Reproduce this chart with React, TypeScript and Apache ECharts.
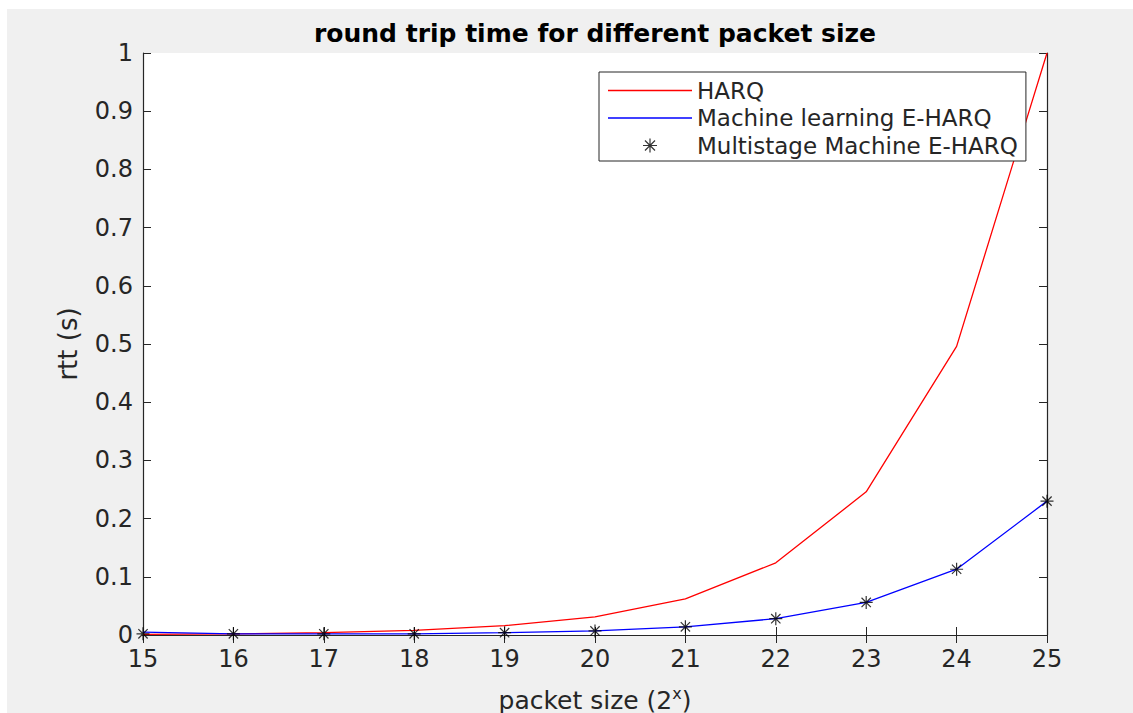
import React, { useEffect, useRef } from "react";
import * as echarts from "echarts";

const packetSizes = ["15", "16", "17", "18", "19", "20", "21", "22", "23", "24", "25"];
const harqRtt = [0.001, 0.002, 0.004, 0.008, 0.016, 0.031, 0.062, 0.124, 0.246, 0.496, 1.0];
const mlEharqRtt = [0.005, 0.002, 0.002, 0.002, 0.004, 0.007, 0.014, 0.028, 0.056, 0.113, 0.23];
const multistageRtt = [0.002, 0.002, 0.002, 0.002, 0.004, 0.007, 0.014, 0.028, 0.056, 0.113, 0.23];
const seriesNames = ["HARQ", "Machine learning E-HARQ", "Multistage Machine E-HARQ"];

const FONT = "DejaVu Sans";
const AXIS = "#262626";
const STAR = "path://M0 -6 L0 6 M-6 0 L6 0 M-4.3 -4.3 L4.3 4.3 M-4.3 4.3 L4.3 -4.3";
const LINE_ICON = "path://M0 0 H84 V1.3 H0 Z";

export default function App() {
  const ref = useRef<HTMLDivElement>(null);
  useEffect(() => {
    const chart = echarts.init(ref.current as HTMLDivElement, null, { renderer: "svg" });
    const xData = packetSizes.map(Number);
    const pairs = (ys: number[]) => ys.map((v, i) => [xData[i], v]);
    const tickStyle = { inside: true, length: 8, lineStyle: { color: AXIS, width: 1 } };
    const lineStyle = { color: AXIS, width: 1.2 };
    chart.setOption({
      animation: false,
      backgroundColor: "#f0f0f0",
      title: {
        text: "round trip time for different packet size",
        left: 588,
        top: 12,
        textAlign: "center",
        padding: 0,
        textStyle: { fontFamily: FONT, fontSize: 25, fontWeight: "bold", color: "#000" },
      },
      grid: {
        left: 136,
        right: 86,
        top: 44,
        bottom: 78,
        show: true,
        backgroundColor: "#ffffff",
        borderWidth: 0,
        containLabel: false,
        outerBoundsMode: "none",
      },
      legend: {
        orient: "vertical",
        left: 592,
        top: 63,
        padding: [7, 8, 4, 9],
        itemWidth: 84,
        itemHeight: 14,
        itemGap: 4.5,
        backgroundColor: "#ffffff",
        borderColor: AXIS,
        borderWidth: 1,
        borderRadius: 0,
        textStyle: { fontFamily: FONT, fontSize: 23, color: AXIS },
        data: [
          { name: seriesNames[0], icon: LINE_ICON, itemStyle: { color: "#ff0000", borderWidth: 0 } },
          { name: seriesNames[1], icon: LINE_ICON, itemStyle: { color: "#0000ff", borderWidth: 0 } },
          { name: seriesNames[2], icon: STAR, itemStyle: { color: "#000", borderColor: "#000", borderWidth: 1.2 } },
        ],
      },
      xAxis: [
        {
          type: "value",
          min: 15,
          max: 25,
          interval: 1,
          axisLine: { show: true, lineStyle },
          axisTick: tickStyle,
          splitLine: { show: false },
          axisLabel: { fontFamily: FONT, fontSize: 24, color: AXIS, margin: 12 },
          name: "{a|packet size (2}{s|x}{a|)}",
          nameLocation: "middle",
          nameGap: 50,
          nameTextStyle: {
            fontFamily: FONT,
            color: AXIS,
            rich: {
              a: { fontFamily: FONT, fontSize: 25, color: AXIS, lineHeight: 30 },
              s: { fontFamily: FONT, fontSize: 16, color: AXIS, verticalAlign: "top", lineHeight: 30, padding: [0, 0, 10, 0] },
            },
          },
        },
        {
          type: "value",
          position: "top",
          min: 15,
          max: 25,
          interval: 1,
          axisLine: { show: true, lineStyle },
          axisTick: tickStyle,
          axisLabel: { show: false },
          splitLine: { show: false },
        },
      ],
      yAxis: [
        {
          type: "value",
          min: 0,
          max: 1,
          interval: 0.1,
          axisLine: { show: true, lineStyle },
          axisTick: tickStyle,
          splitLine: { show: false },
          axisLabel: { fontFamily: FONT, fontSize: 24, color: AXIS, margin: 10 },
          name: "rtt (s)",
          nameLocation: "middle",
          nameGap: 62,
          nameTextStyle: { fontFamily: FONT, fontSize: 26, color: AXIS },
        },
        {
          type: "value",
          position: "right",
          min: 0,
          max: 1,
          interval: 0.1,
          axisLine: { show: true, lineStyle },
          axisTick: tickStyle,
          axisLabel: { show: false },
          splitLine: { show: false },
        },
      ],
      series: [
        {
          name: seriesNames[0],
          type: "line",
          data: pairs(harqRtt),
          symbol: "none",
          showSymbol: false,
          lineStyle: { color: "#ff0000", width: 1.3 },
          itemStyle: { color: "#ff0000" },
          z: 2,
        },
        {
          name: seriesNames[1],
          type: "line",
          data: pairs(mlEharqRtt),
          symbol: "none",
          showSymbol: false,
          lineStyle: { color: "#0000ff", width: 1.3 },
          itemStyle: { color: "#0000ff" },
          z: 3,
        },
        {
          name: seriesNames[2],
          type: "scatter",
          data: pairs(multistageRtt),
          symbol: STAR,
          symbolSize: 13,
          itemStyle: { color: "#000", borderColor: "#000", borderWidth: 1.2 },
          z: 4,
        },
      ],
    });
    return () => chart.dispose();
  }, []);
  return (
    <div style={{ position: "fixed", left: 0, top: 0, width: 1133, height: 713, background: "#ffffff" }}>
      <div ref={ref} style={{ position: "absolute", left: 7, top: 9, width: 1126, height: 704 }} />
    </div>
  );
}
